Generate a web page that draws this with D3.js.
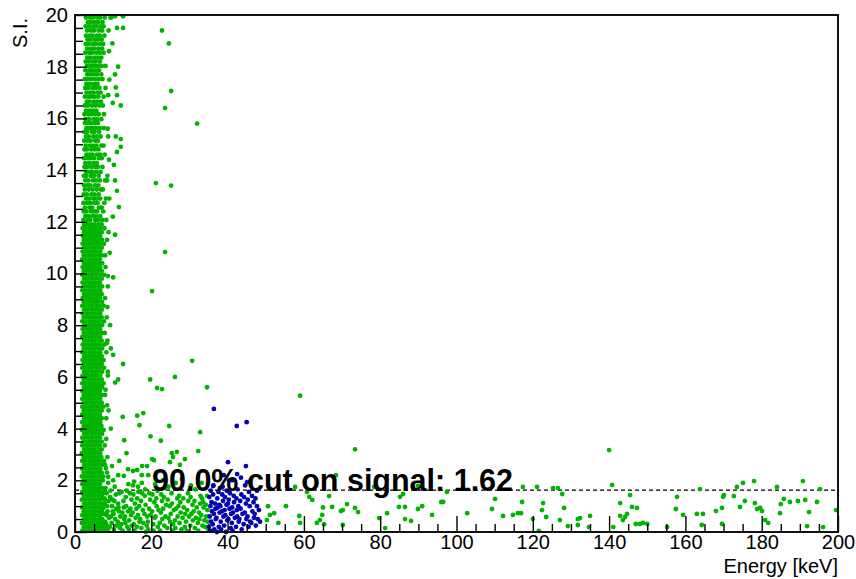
<html>
<head>
<script src="https://d3js.org/d3.v7.min.js"></script>
<style>
  body { margin: 0; background: #fff; }
  text { font-family: "Liberation Sans", Arial, Helvetica, sans-serif; }
</style>
</head>
<body>
<svg id="chart" width="856" height="579"></svg>
<script>
// tick values
var xMajor = [0, 20, 40, 60, 80, 100, 120, 140, 160, 180, 200];
var yMajor = [0, 2, 4, 6, 8, 10, 12, 14, 16, 18, 20];
var cutValue = 1.62;
var cutLabel = "90.0% cut on signal: 1.62";

// dense background band near threshold: [S.I., [energies...]]
var bandRows = [
  [0.05,[1.9,2.8,3.8,4.7,5.7,6.6,7.4]],[0.2,[2.3,3.3,4.2,5.2,6.1,7.0,7.9]],[0.35,[1.8,2.8,3.7,4.7,5.6,6.6,7.5]],
  [0.5,[2.4,3.3,4.3,5.2,6.2,7.1]],[0.65,[1.9,2.9,3.8,4.8,5.7,6.6,8.3]],[0.8,[2.3,3.2,4.2,5.1,6.1,7.0]],
  [0.95,[1.9,2.8,3.7,4.7,5.6,6.5,7.5]],[1.1,[2.4,3.3,4.3,5.2,6.2,7.1]],[1.25,[1.8,2.8,3.8,4.7,5.6,6.6,7.8]],
  [1.4,[2.3,3.3,4.2,5.1,6.1,7.0]],[1.55,[1.9,2.9,3.8,4.7,5.7,6.6]],[1.7,[2.4,3.3,4.2,5.2,6.1,7.1,8.0]],
  [1.85,[1.9,2.8,3.7,4.7,5.6,6.5]],[2.0,[2.3,3.2,4.2,5.1,6.0,7.0]],[2.15,[1.8,2.8,3.7,4.6,5.6,6.5,7.4]],
  [2.3,[2.3,3.3,4.2,5.2,6.1,7.0]],[2.45,[1.9,2.9,3.8,4.7,5.7,6.6]],[2.6,[2.4,3.3,4.3,5.2,6.1,7.1]],
  [2.75,[1.9,2.8,3.8,4.7,5.6,6.5,7.6]],[2.9,[2.3,3.2,4.2,5.1,6.1,6.9]],[3.05,[1.8,2.8,3.7,4.7,5.6,6.6]],
  [3.2,[2.4,3.3,4.2,5.2,6.1,7.0]],[3.35,[1.9,2.9,3.8,4.7,5.7,6.5,7.8]],[3.5,[2.3,3.3,4.2,5.1,6.0,7.0]],
  [3.65,[1.9,2.8,3.7,4.6,5.6,6.5]],[3.8,[2.4,3.3,4.3,5.2,6.1,7.1]],[3.95,[1.8,2.8,3.8,4.7,5.6,6.6,7.5]],
  [4.1,[2.3,3.2,4.2,5.1,6.0,6.9]],[4.25,[1.9,2.9,3.8,4.7,5.7,6.6]],[4.4,[2.4,3.3,4.2,5.2,6.1,7.0,8.2]],
  [4.55,[1.9,2.8,3.7,4.6,5.6,6.5]],[4.7,[2.3,3.3,4.2,5.1,6.1,7.0]],[4.85,[1.9,2.8,3.8,4.7,5.6,6.6,7.4]],
  [5.0,[2.4,3.3,4.3,5.2,6.1,7.0]],[5.15,[1.9,2.9,3.8,4.7,5.7,6.6]],[5.3,[2.3,3.2,4.2,5.1,6.0,7.0,7.9]],
  [5.45,[1.9,2.8,3.7,4.7,5.6,6.5]],[5.6,[2.4,3.3,4.2,5.2,6.1,7.1]],[5.75,[1.9,2.8,3.8,4.7,5.6,6.6,7.5]],
  [5.9,[2.3,3.3,4.2,5.1,6.1,7.0]],[6.05,[2.0,2.9,3.8,4.7,5.7,6.6,8.6]],[6.2,[2.4,3.3,4.3,5.2,6.1,7.1]],
  [6.35,[1.9,2.8,3.7,4.6,5.6,6.5,7.6]],[6.5,[2.3,3.2,4.2,5.1,6.0,7.0]],[6.65,[2.0,2.9,3.8,4.7,5.6,6.6,7.5]],
  [6.8,[2.4,3.3,4.2,5.2,6.1,7.0]],[6.95,[1.9,2.8,3.8,4.7,5.7,6.6,8.2]],[7.1,[2.3,3.3,4.2,5.1,6.1,7.1]],
  [7.25,[2.0,2.9,3.8,4.7,5.6,6.5,7.6]],[7.4,[2.4,3.3,4.3,5.2,6.1,7.0,8.5]],[7.55,[1.9,2.8,3.7,4.6,5.6,6.6]],
  [7.7,[2.3,3.2,4.2,5.1,6.0,7.0,7.8]],[7.85,[2.0,2.9,3.8,4.7,5.7,6.6]],[8.0,[2.4,3.3,4.2,5.2,6.1,7.1]],
  [8.15,[1.9,2.8,3.8,4.7,5.6,6.5,7.6]],[8.3,[2.3,3.3,4.2,5.1,6.1,7.0,8.3]],[8.45,[2.0,2.9,3.8,4.7,5.6,6.6]],
  [8.6,[2.4,3.3,4.3,5.2,6.1,7.0]],[8.75,[1.9,2.8,3.7,4.6,5.6,6.5,7.5]],[8.9,[2.3,3.2,4.2,5.1,6.0,7.1]],
  [9.05,[2.0,2.9,3.8,4.7,5.7,6.6,7.9]],[9.2,[2.4,3.3,4.2,5.2,6.1,7.0]],[9.35,[1.9,2.8,3.8,4.7,5.6,6.6]],
  [9.5,[2.3,3.3,4.2,5.1,6.1,7.1,8.6]],[9.65,[2.0,2.9,3.8,4.7,5.6,6.5]],[9.8,[2.4,3.3,4.3,5.2,6.1,7.0]],
  [9.95,[1.9,2.8,3.7,4.6,5.6,6.6,7.6]],[10.1,[2.3,3.2,4.2,5.1,6.0,7.0]],[10.25,[2.0,2.9,3.8,4.7,5.7,6.6,8.0]],
  [10.4,[2.4,3.3,4.2,5.2,6.1,7.1]],[10.55,[1.9,2.8,3.8,4.7,5.6,6.5]],[10.7,[2.3,3.3,4.2,5.1,6.1,7.0,7.9]],
  [10.85,[2.0,2.9,3.8,4.7,5.6,6.6]],[11.0,[2.4,3.3,4.3,5.2,6.1,7.0]],[11.15,[2.0,2.8,3.7,4.6,5.6,6.5,7.6]],
  [11.3,[2.3,3.2,4.2,5.1,6.0,7.1,8.4]],[11.45,[2.1,2.9,3.8,4.7,5.7,6.6]],[11.6,[2.4,3.3,4.2,5.2,6.1,7.0]],
  [11.75,[2.0,2.8,3.8,4.7,5.6,6.6,7.7]],[11.9,[2.4,3.3,4.2,5.1,6.1,7.0]],
  [12.07,[2.2,3.3,4.0,5.3,6.0,7.1,8.2]],[12.22,[2.7,3.6,4.7,5.5,6.6]],[12.4,[2.3,3.0,4.2,5.0,5.8,7.4]],
  [12.55,[2.6,3.8,4.5,6.3,7.0]],[12.73,[2.2,3.2,4.1,5.2,5.9,7.7]],[12.9,[2.9,3.7,4.8,5.6,6.6,8.1]],
  [13.06,[2.3,3.1,4.3,5.1,6.2]],[13.25,[2.6,3.6,4.6,5.7,6.8,7.3]],[13.41,[2.4,3.3,4.0,5.2,6.1]],
  [13.6,[2.7,3.5,4.7,5.5,6.5,7.9]],[13.78,[2.3,3.0,4.2,5.0,6.2,8.5]],[13.93,[2.9,3.9,4.6,5.6,6.7]],
  [14.12,[2.5,3.2,4.3,5.3,6.0,7.2]],[14.27,[2.7,3.7,4.8,5.7]],[14.46,[2.4,3.4,4.1,5.0,6.3,7.0]],
  [14.6,[3.0,3.8,4.6,5.8,6.6,7.8]],[14.8,[2.5,3.1,4.3,5.2,6.1]],[14.95,[2.8,3.9,4.7,5.6,6.9,7.5]],
  [15.14,[2.4,3.3,4.1,5.3,6.0]],[15.3,[2.9,3.6,4.8,5.7,6.7,8.7]],[15.48,[2.5,3.2,4.4,5.1,6.3]],
  [15.62,[3.0,3.9,4.6,5.5,6.5,7.6]],[15.82,[2.6,3.4,4.2,5.2,6.0]],[15.97,[2.8,3.7,4.9,5.8,6.9]],
  [16.16,[2.5,3.5,4.3,5.3,6.2,7.6]],[16.3,[2.9,3.9,4.7,5.6]],[16.5,[2.6,3.4,4.5,5.4,6.4,7.3]],
  [16.65,[3.1,3.8,4.9,5.8,6.8]],[16.84,[2.6,3.5,4.3,5.2,6.1,7.5]],[17.0,[3.0,4.0,4.8,5.9,6.7]],
  [17.18,[2.7,3.5,4.6,5.4,6.4,8.0]],[17.33,[3.0,3.9,5.0,5.9]],[17.52,[2.6,3.4,4.3,5.3,6.3,7.2]],
  [17.7,[3.2,4.0,4.9,5.8,6.9]],[17.86,[2.7,3.7,4.5,5.5,6.3]],[18.03,[3.1,4.1,5.0,6.0,7.0,8.0]],
  [18.2,[2.8,3.6,4.6,5.4,6.5]],[18.35,[3.2,4.0,5.1,6.0,6.9]],[18.54,[2.7,3.7,4.5,5.6,6.5,7.5]],
  [18.7,[3.2,4.2,5.0,6.1,7.1]],[18.88,[2.8,3.6,4.7,5.5,6.6,7.4]],[19.05,[3.3,4.1,5.2,6.0,7.0]],
  [19.2,[2.9,3.8,4.6,5.7,6.5,7.7]],[19.4,[3.2,4.2,5.0,6.2,7.1,8.8]],[19.56,[2.8,3.7,4.8,5.6,6.7,7.5]],
  [19.72,[3.4,4.2,5.2,6.1,7.2]],[19.9,[2.9,3.9,4.7,5.8,6.6,7.8,9.3]]
];

// band fringe points: [energy, S.I.]
var bandEdge = [
  [10.5,19.95],[12.6,19.95],[9.5,19.9],[11.0,19.5],[12.6,19.5],[9.8,18.9],[8.9,18.6],[11.3,18.0],[10.5,17.7],
  [9.0,17.5],[10.7,17.2],[11.0,16.9],[8.7,16.9],[12.0,16.5],[9.9,16.6],[8.6,15.6],[10.7,15.3],[12.0,15.2],
  [12.0,14.9],[11.0,14.7],[8.9,14.4],[10.2,14.2],[10.5,13.6],[8.4,13.6],[11.0,13.2],[9.0,12.9],[11.5,12.57],
  [9.9,12.2],[8.8,11.6],[10.5,11.5],[9.1,10.8],[8.6,9.9],[10.0,9.85],[8.5,8.7],[9.2,8.0],[8.3,7.3],[9.4,7.1],
  [8.6,6.2],[8.0,5.5],[8.8,4.7],[8.2,3.6],[8.5,2.9],[7.9,2.6]
];

// low energy background below ~2.3: [energy, S.I.]
var lowBkg = [
  [7.3,0.2],[7.6,0.7],[7.8,1.1],[7.4,1.5],[7.9,0.4],[7.2,0.9],[7.7,1.3],[7.5,0.05],[7.9,1.7],[7.3,2.0],
  [8.2,0.3],[8.5,0.8],[8.8,1.2],[8.3,1.5],[8.6,0.1],[8.9,0.55],[8.4,1.0],[8.7,1.9],
  [9.1,0.2],[9.4,0.6],[9.7,1.0],[9.2,1.35],[9.6,0.35],[9.9,0.8],[9.3,1.6],[9.8,1.25],
  [10.2,0.1],[10.5,0.5],[10.8,0.9],[10.3,1.2],[10.7,1.45],[10.1,0.7],[10.9,0.25],[10.4,1.75],
  [11.2,0.4],[11.5,0.8],[11.8,0.15],[11.3,1.1],[11.6,1.5],[11.9,0.6],[11.4,0.95],
  [12.1,0.3],[12.4,0.75],[12.7,1.2],[12.2,1.55],[12.9,0.5],[12.5,0.05],[12.8,0.95],
  [13.1,0.6],[13.4,1.0],[13.7,0.2],[13.3,1.35],[13.9,0.8],[13.6,1.6],[13.2,0.35],
  [14.2,0.45],[14.5,0.9],[14.8,1.25],[14.1,0.1],[14.7,0.65],[14.4,1.5],[14.9,0.25],
  [15.1,0.75],[15.4,0.3],[15.7,1.1],[15.3,1.45],[15.9,0.55],[15.6,0.05],[15.2,1.8],
  [16.2,0.2],[16.5,0.65],[16.8,1.0],[16.3,1.3],[16.9,0.4],[16.6,1.55],[16.1,0.9],
  [17.1,0.5],[17.4,0.15],[17.8,0.85],[17.3,1.2],[17.6,1.5],[17.9,0.35],[17.5,1.9],
  [18.2,0.7],[18.5,1.05],[18.8,0.25],[18.3,1.4],[18.9,0.6],[18.6,0.0],[18.4,1.65],
  [19.1,0.4],[19.4,0.9],[19.7,1.25],[19.2,0.1],[19.8,0.65],[19.5,1.5],
  [20.2,0.8],[20.5,0.3],[20.8,1.15],[20.3,1.45],[20.9,0.55],[20.6,0.05],
  [21.1,0.6],[21.4,1.0],[21.7,0.2],[21.3,1.3],[21.9,0.85],[21.6,1.6],
  [22.2,0.35],[22.5,0.75],[22.8,1.2],[22.3,0.05],[22.9,0.5],[22.6,1.45],
  [23.1,0.9],[23.4,0.25],[23.7,0.6],[23.3,1.35],[23.9,1.05],[23.6,1.7],
  [24.2,0.15],[24.5,0.55],[24.8,1.0],[24.3,1.25],[24.9,0.4],
  [25.1,0.7],[25.4,1.1],[25.7,0.3],[25.3,1.5],[25.9,0.85],[25.6,0.05],
  [26.2,0.45],[26.5,0.9],[26.8,1.3],[26.3,0.15],[26.9,0.6],
  [27.1,1.0],[27.4,0.35],[27.7,0.75],[27.3,1.4],[27.9,0.1],[27.6,1.15],
  [28.2,0.55],[28.5,0.95],[28.8,0.2],[28.4,1.3],[28.9,0.7],
  [29.1,0.4],[29.4,0.85],[29.7,1.2],[29.3,0.05],[29.9,0.6],[29.6,1.5],
  [30.2,0.25],[30.5,0.7],[30.8,1.05],[30.3,1.35],[30.9,0.45],
  [31.1,0.8],[31.4,0.15],[31.7,0.55],[31.3,1.2],[31.9,0.95],
  [32.2,0.35],[32.5,0.75],[32.8,1.1],[32.3,0.05],[32.9,1.4],[32.6,0.5],
  [33.1,0.65],[33.4,0.25],[33.7,0.95],[33.3,1.3],[33.9,0.45],[33.6,1.15],
  [34.1,0.2],[34.4,0.6],[34.7,0.85],[34.3,1.05],[34.8,0.4],[34.6,1.4],[34.9,0.1],
  [8.4,2.3],[11.3,2.2],[12.8,2.17],[15.5,1.95],[17.5,2.2],[19.2,2.2],[21.0,1.85],[23.0,2.0],[24.5,1.75],
  [26.4,1.9],[28.0,2.05],[30.4,1.8],[31.5,1.65],[33.2,1.9],[14.0,1.85],[10.0,2.0],[16.5,1.75],[8.7,2.13]
];

// scattered background outliers: [energy, S.I.]
var scatterBkg = [
  [22.8,19.4],[24.6,18.9],[25.2,17.06],[23.6,16.4],[32.0,15.8],[21.2,13.5],[25.2,13.4],[23.6,10.83],[20.2,9.32],
  [30.7,6.62],[12.6,6.5],[10.0,6.85],[26.2,6.0],[19.7,5.9],[11.3,5.9],[10.5,5.78],[59.0,5.27],[34.6,5.6],
  [73.4,3.2],[140.0,3.17],[21.5,5.57],[22.8,5.53],[8.4,4.9],[16.3,4.5],[17.9,4.6],[12.5,4.45],[16.9,4.13],
  [24.7,4.1],[9.4,4.0],[32.8,3.86],[19.8,3.7],[12.9,3.55],[22.5,3.53],[32.3,3.13],[13.5,3.05],[25.4,3.05],
  [26.7,3.1],[25.7,2.9],[20.2,2.82],[20.7,2.78],[24.9,2.7],[28.8,2.82],[11.6,2.75],[8.1,2.47],[9.7,2.55],
  [13.9,2.43],[15.2,2.36],[16.3,2.4],[17.6,2.55],[18.9,2.55],[27.5,2.6],
  [50.6,1.0],[52.2,0.73],[50.3,0.46],[53.3,0.35],[55.3,1.0],[57.7,1.74],[58.8,0.62],[51.1,0.66],[59.0,0.35],
  [61.4,1.36],[62.2,1.24],[60.8,1.55],[65.0,0.95],[64.8,0.66],[63.4,0.35],[64.2,0.46],[65.3,0.3],[66.6,1.39],
  [67.4,0.97],[68.4,2.2],[69.7,0.81],[70.2,0.85],[70.2,0.27],[71.3,1.08],[73.4,0.93],[74.2,0.77],[78.4,1.74],
  [79.7,0.54],[81.3,0.15],[81.8,0.73],[84.9,0.97],[85.2,1.36],[86.0,1.47],[86.5,0.97],[86.5,0.5],[88.1,0.43],
  [89.9,0.89],[91.0,1.0],[89.9,1.78],[93.6,0.66],[96.0,1.16],[96.5,1.16],[97.5,1.55],[102.8,0.73],[109.3,0.89],
  [110.1,1.28],[112.2,0.62],[114.8,0.66],[116.1,0.73],[116.9,0.73],[117.2,1.16],[117.4,1.74],[120.0,0.5],
  [121.1,1.74],[121.6,0.04],[122.4,0.85],[122.7,1.12],[123.5,0.58],[125.3,1.7],[126.6,1.7],[127.7,1.47],
  [128.2,0.93],[127.1,0.46],[129.2,0.23],[131.8,0.5],[132.4,0.54],[131.8,0.27],[135.0,0.62],[134.7,0.19],
  [140.8,1.82],[141.1,0.19],[142.9,1.12],[142.9,0.62],[143.6,0.46],[144.2,0.58],[144.7,0.7],[145.5,1.43],
  [146.0,0.97],[147.3,0.93],[147.0,0.31],[148.1,0.31],[148.9,0.35],[150.0,0.31],[155.2,0.19],[157.8,1.36],
  [157.5,0.89],[159.4,0.66],[163.0,0.7],[164.6,0.7],[163.8,1.66],[164.3,0.27],[168.0,0.81],[169.6,0.93],
  [169.9,1.36],[170.1,1.43],[169.6,0.31],[172.7,1.39],[173.5,1.74],[174.3,0.97],[175.1,1.9],[175.6,1.2],
  [178.0,1.97],[178.2,1.12],[178.8,0.89],[180.1,0.81],[179.6,0.93],[180.9,0.46],[181.7,0.35],[184.0,1.74],
  [184.8,0.73],[185.0,1.08],[185.8,1.28],[187.4,1.16],[189.5,1.2],[191.4,1.24],[190.8,1.97],[191.9,0.23],
  [192.4,0.77],[194.5,1.16],[195.3,1.66],[196.1,0.19],[199.5,0.85]
];

// signal events: [energy, S.I.]
var signal = [
  [35.1,0.2],[35.3,0.6],[35.5,1.0],[35.2,1.35],[35.7,0.4],[35.9,0.8],[35.4,0.05],[35.8,1.15],[35.6,1.6],
  [36.1,0.3],[36.4,0.7],[36.7,1.1],[36.2,1.45],[36.9,0.5],[36.5,0.1],[36.8,0.9],[36.3,1.8],
  [37.1,0.55],[37.4,0.95],[37.7,0.2],[37.3,1.3],[37.9,0.75],[37.6,1.55],[37.2,0.0],[37.8,1.05],
  [38.2,0.4],[38.5,0.8],[38.8,1.2],[38.3,0.1],[38.9,0.6],[38.6,1.45],[38.1,1.0],[38.7,1.75],
  [39.1,0.25],[39.4,0.65],[39.7,1.05],[39.3,1.35],[39.9,0.45],[39.6,0.0],[39.2,0.85],[39.8,1.6],
  [40.2,0.5],[40.5,0.9],[40.8,0.15],[40.3,1.25],[40.9,0.7],[40.6,1.5],[40.1,1.1],[40.4,2.0],
  [41.1,0.35],[41.4,0.75],[41.7,1.15],[41.3,0.05],[41.9,0.55],[41.6,1.4],[41.2,0.95],
  [42.2,0.2],[42.5,0.6],[42.8,1.0],[42.3,1.3],[42.9,0.4],[42.6,1.65],[42.4,0.85],
  [43.1,0.5],[43.4,0.9],[43.7,0.1],[43.3,1.2],[43.9,0.7],[43.6,1.45],
  [44.2,0.3],[44.5,0.75],[44.8,1.1],[44.3,1.35],[44.9,0.5],[44.6,1.8],
  [45.2,0.6],[45.5,0.2],[45.8,1.0],[45.3,1.25],[45.9,0.4],[45.6,1.55],
  [46.2,0.35],[46.5,0.8],[46.8,1.15],[46.4,1.4],[46.9,0.55],
  [47.1,0.7],[47.4,0.25],[47.7,1.0],[47.3,1.3],[47.9,0.5],[48.2,0.85],[48.5,0.4],
  [36.4,4.76],[42.4,4.1],[45.0,4.25],[40.1,2.7],[44.8,2.55],[42.5,2.24],[41.2,2.0],[45.1,1.93],
  [47.7,1.6],[36.2,1.78],[38.0,1.7],[43.5,2.1],[39.0,2.2]
];

var x0 = 75, x1 = 838, y0 = 15, y1 = 532;
var green = "#00b400", blue = "#0404b4", r = 2.4;

var x = d3.scaleLinear().domain([0, 200]).range([x0, x1]);
var y = d3.scaleLinear().domain([0, 20]).range([y1, y0]);

var svg = d3.select("#chart");

var bandPts = bandRows.flatMap(function(row) {
  return row[1].map(function(e) { return [e, row[0]]; });
});
var bkg = bandPts.concat(bandEdge, lowBkg, scatterBkg);

// cut line under the points
svg.append("line")
  .attr("x1", x(0)).attr("x2", x(200))
  .attr("y1", y(cutValue)).attr("y2", y(cutValue))
  .attr("stroke", "#000").attr("stroke-width", 1.3)
  .attr("stroke-dasharray", "4,3");

svg.append("g").selectAll("circle")
  .data(bkg)
  .enter().append("circle")
  .attr("cx", function(d) { return x(d[0]); })
  .attr("cy", function(d) { return y(d[1]); })
  .attr("r", r)
  .attr("fill", green);

svg.append("g").selectAll("circle")
  .data(signal)
  .enter().append("circle")
  .attr("cx", function(d) { return x(d[0]); })
  .attr("cy", function(d) { return y(d[1]); })
  .attr("r", r)
  .attr("fill", blue);

// minor ticks
var xMinor = d3.range(0, 201, 5).filter(function(v) { return v % 20 != 0; });
var yMinor = d3.range(0, 20.01, 0.5).filter(function(v) { return v % 2 != 0; });

function clean(g) {
  g.select(".domain").remove();
  g.selectAll("line").attr("stroke", "#000").attr("stroke-width", 1.4);
  g.selectAll("text").attr("font-size", 20).attr("fill", "#000")
    .style("font-family", "'Liberation Sans', Arial, Helvetica, sans-serif");
}

svg.append("g").attr("transform", "translate(0," + y1 + ")")
  .call(d3.axisBottom(x).tickValues(xMajor).tickSize(-16).tickPadding(3).tickFormat(d3.format("d")))
  .call(clean);
svg.append("g").attr("transform", "translate(0," + y1 + ")")
  .call(d3.axisBottom(x).tickValues(xMinor).tickSize(-8).tickFormat(""))
  .call(clean);
svg.append("g").attr("transform", "translate(" + x0 + ",0)")
  .call(d3.axisLeft(y).tickValues(yMajor).tickSize(-12).tickPadding(7).tickFormat(d3.format("d")))
  .call(clean);
svg.append("g").attr("transform", "translate(" + x0 + ",0)")
  .call(d3.axisLeft(y).tickValues(yMinor).tickSize(-8).tickFormat(""))
  .call(clean);

// frame
svg.append("rect")
  .attr("x", x0).attr("y", y0)
  .attr("width", x1 - x0).attr("height", y1 - y0)
  .attr("fill", "none").attr("stroke", "#111").attr("stroke-width", 2);

// annotation
svg.append("text")
  .attr("x", 152).attr("y", 491)
  .attr("font-size", 30.5).attr("font-weight", "bold")
  .attr("fill", "#000")
  .text(cutLabel);

// axis titles
svg.append("text")
  .attr("x", x1).attr("y", 573)
  .attr("text-anchor", "end").attr("font-size", 20)
  .text("Energy [keV]");

svg.append("text")
  .attr("transform", "translate(27,18) rotate(-90)")
  .attr("text-anchor", "end").attr("font-size", 20)
  .text("S.I.");
</script>
</body>
</html>
